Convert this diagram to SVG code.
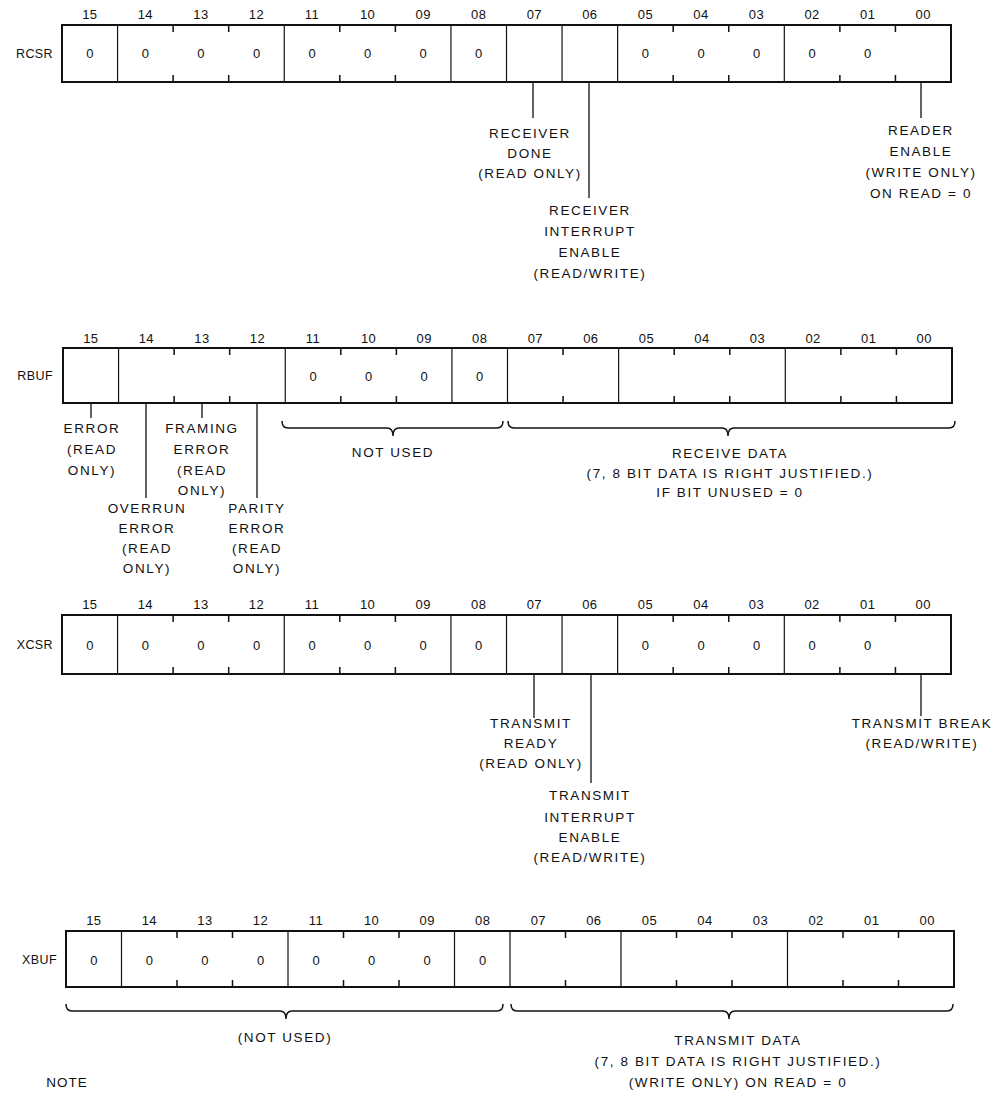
<svg xmlns="http://www.w3.org/2000/svg" width="1001" height="1094" viewBox="0 0 1001 1094">
<style>
text{font-family:"Liberation Sans",Arial,sans-serif;fill:#111}
.box{fill:none;stroke:#111;stroke-width:2}
.sep{fill:none;stroke:#111;stroke-width:1.2}
.tick{fill:none;stroke:#111;stroke-width:1.5}
.num{font-size:13px;text-anchor:middle;letter-spacing:0.4px}
.zero{font-size:13px;text-anchor:middle}
.reg{font-size:12.5px;text-anchor:end;letter-spacing:0.4px}
.lbl{font-size:13.5px;text-anchor:middle;letter-spacing:1.6px}
.lead{fill:none;stroke:#111;stroke-width:1.3}
.brace{fill:none;stroke:#111;stroke-width:1.5}
</style>
<defs>
<g id="nums">
<text class="num" x="27.8">15</text><text class="num" x="83.3">14</text><text class="num" x="138.9">13</text><text class="num" x="194.5">12</text>
<text class="num" x="250.0">11</text><text class="num" x="305.6">10</text><text class="num" x="361.2">09</text><text class="num" x="416.7">08</text>
<text class="num" x="472.3">07</text><text class="num" x="527.8">06</text><text class="num" x="583.4">05</text><text class="num" x="639.0">04</text>
<text class="num" x="694.5">03</text><text class="num" x="750.1">02</text><text class="num" x="805.7">01</text><text class="num" x="861.2">00</text>
</g>
</defs>

<g id="RCSR" transform="translate(62,25)">
<use href="#nums" y="-6"/>
<text class="reg" x="-9" y="33">RCSR</text>
<rect class="box" x="0" y="0" width="889" height="57"/>
<path class="sep" d="M55.56,0V57M222.25,0V57M388.94,0V57M444.5,0V57M500.06,0V57M555.63,0V57M722.31,0V57"/>
<path class="tick" d="M111.13,0v7M111.13,57v-7M166.69,0v7M166.69,57v-7M277.81,0v7M277.81,57v-7M333.38,0v7M333.38,57v-7M611.19,0v7M611.19,57v-7M666.75,0v7M666.75,57v-7M777.88,0v7M777.88,57v-7M833.44,0v7M833.44,57v-7"/>
<g class="zeros">
<text class="zero" x="27.8" y="33">0</text><text class="zero" x="83.3" y="33">0</text><text class="zero" x="138.9" y="33">0</text><text class="zero" x="194.5" y="33">0</text>
<text class="zero" x="250.0" y="33">0</text><text class="zero" x="305.6" y="33">0</text><text class="zero" x="361.2" y="33">0</text><text class="zero" x="416.7" y="33">0</text>
<text class="zero" x="583.4" y="33">0</text><text class="zero" x="639.0" y="33">0</text><text class="zero" x="694.5" y="33">0</text>
<text class="zero" x="750.1" y="33">0</text><text class="zero" x="805.7" y="33">0</text>
</g>
</g>

<g id="RCSR-labels">
<text class="lbl" x="530" y="138">RECEIVER</text>
<text class="lbl" x="530" y="158">DONE</text>
<text class="lbl" x="530" y="178">(READ ONLY)</text>
<text class="lbl" x="590" y="215">RECEIVER</text>
<text class="lbl" x="590" y="236">INTERRUPT</text>
<text class="lbl" x="590" y="257">ENABLE</text>
<text class="lbl" x="590" y="278">(READ/WRITE)</text>
<text class="lbl" x="921" y="135">READER</text>
<text class="lbl" x="921" y="156">ENABLE</text>
<text class="lbl" x="921" y="177">(WRITE ONLY)</text>
<text class="lbl" x="921" y="198">ON READ = 0</text>
</g>

<g id="RBUF" transform="translate(63,348)">
<use href="#nums" y="-5"/>
<text class="reg" x="-10" y="32">RBUF</text>
<rect class="box" x="0" y="0" width="889" height="55"/>
<path class="sep" d="M55.56,0V55M222.25,0V55M388.94,0V55M444.5,0V55M555.63,0V55M722.31,0V55"/>
<path class="tick" d="M111.13,0v7M111.13,55v-7M166.69,0v7M166.69,55v-7M277.81,0v7M277.81,55v-7M333.38,0v7M333.38,55v-7M500.06,0v7M500.06,55v-7M611.19,0v7M611.19,55v-7M666.75,0v7M666.75,55v-7M777.88,0v7M777.88,55v-7M833.44,0v7M833.44,55v-7"/>
<text class="zero" x="250.0" y="33">0</text><text class="zero" x="305.6" y="33">0</text><text class="zero" x="361.2" y="33">0</text><text class="zero" x="416.7" y="33">0</text>
</g>

<g id="RBUF-labels">
<text class="lbl" x="92" y="433">ERROR</text>
<text class="lbl" x="92" y="454">(READ</text>
<text class="lbl" x="92" y="475">ONLY)</text>
<text class="lbl" x="202" y="433">FRAMING</text>
<text class="lbl" x="202" y="454">ERROR</text>
<text class="lbl" x="202" y="475">(READ</text>
<text class="lbl" x="202" y="495">ONLY)</text>
<text class="lbl" x="147" y="513">OVERRUN</text>
<text class="lbl" x="147" y="533">ERROR</text>
<text class="lbl" x="147" y="553">(READ</text>
<text class="lbl" x="147" y="573">ONLY)</text>
<text class="lbl" x="257" y="513">PARITY</text>
<text class="lbl" x="257" y="533">ERROR</text>
<text class="lbl" x="257" y="553">(READ</text>
<text class="lbl" x="257" y="573">ONLY)</text>
<text class="lbl" x="393" y="457">NOT USED</text>
<text class="lbl" x="730" y="458">RECEIVE DATA</text>
<text class="lbl" x="730" y="478">(7, 8 BIT DATA IS RIGHT JUSTIFIED.)</text>
<text class="lbl" x="730" y="497">IF BIT UNUSED = 0</text>
</g>

<g id="XCSR" transform="translate(62,615)">
<use href="#nums" y="-6"/>
<text class="reg" x="-9" y="34">XCSR</text>
<rect class="box" x="0" y="0" width="889" height="59"/>
<path class="sep" d="M55.56,0V59M222.25,0V59M388.94,0V59M444.5,0V59M500.06,0V59M555.63,0V59M722.31,0V59"/>
<path class="tick" d="M111.13,0v7M111.13,59v-7M166.69,0v7M166.69,59v-7M277.81,0v7M277.81,59v-7M333.38,0v7M333.38,59v-7M611.19,0v7M611.19,59v-7M666.75,0v7M666.75,59v-7M777.88,0v7M777.88,59v-7M833.44,0v7M833.44,59v-7"/>
<text class="zero" x="27.8" y="35">0</text><text class="zero" x="83.3" y="35">0</text><text class="zero" x="138.9" y="35">0</text><text class="zero" x="194.5" y="35">0</text>
<text class="zero" x="250.0" y="35">0</text><text class="zero" x="305.6" y="35">0</text><text class="zero" x="361.2" y="35">0</text><text class="zero" x="416.7" y="35">0</text>
<text class="zero" x="583.4" y="35">0</text><text class="zero" x="639.0" y="35">0</text><text class="zero" x="694.5" y="35">0</text>
<text class="zero" x="750.1" y="35">0</text><text class="zero" x="805.7" y="35">0</text>
</g>

<g id="XCSR-labels">
<text class="lbl" x="531" y="728">TRANSMIT</text>
<text class="lbl" x="531" y="748">READY</text>
<text class="lbl" x="531" y="768">(READ ONLY)</text>
<text class="lbl" x="590" y="800">TRANSMIT</text>
<text class="lbl" x="590" y="822">INTERRUPT</text>
<text class="lbl" x="590" y="842">ENABLE</text>
<text class="lbl" x="590" y="862">(READ/WRITE)</text>
<text class="lbl" x="922" y="728">TRANSMIT BREAK</text>
<text class="lbl" x="922" y="748">(READ/WRITE)</text>
</g>

<g id="XBUF" transform="translate(66,931)">
<use href="#nums" y="-6"/>
<text class="reg" x="-9" y="33">XBUF</text>
<rect class="box" x="0" y="0" width="888" height="56"/>
<path class="sep" d="M55.5,0V56M222,0V56M388.5,0V56M444,0V56M555,0V56M721.5,0V56"/>
<path class="tick" d="M111,0v7M111,56v-7M166.5,0v7M166.5,56v-7M277.5,0v7M277.5,56v-7M333,0v7M333,56v-7M499.5,0v7M499.5,56v-7M610.5,0v7M610.5,56v-7M666,0v7M666,56v-7M777,0v7M777,56v-7M832.5,0v7M832.5,56v-7"/>
<text class="zero" x="27.8" y="34">0</text><text class="zero" x="83.3" y="34">0</text><text class="zero" x="138.9" y="34">0</text><text class="zero" x="194.5" y="34">0</text>
<text class="zero" x="250.0" y="34">0</text><text class="zero" x="305.6" y="34">0</text><text class="zero" x="361.2" y="34">0</text><text class="zero" x="416.7" y="34">0</text>
</g>

<g id="XBUF-labels">
<text class="lbl" x="285" y="1042">(NOT USED)</text>
<text class="lbl" x="738" y="1045">TRANSMIT DATA</text>
<text class="lbl" x="738" y="1066">(7, 8 BIT DATA IS RIGHT JUSTIFIED.)</text>
<text class="lbl" x="738" y="1087">(WRITE ONLY) ON READ = 0</text>
<text class="lbl" x="67" y="1087" style="letter-spacing:1px">NOTE</text>
</g>

<g id="connectors">
<path class="lead" d="M533,82V118M589,82V198M921,82V118"/>
<path class="lead" d="M91,403V418M146,403V498M202,403V418M257,403V498"/>
<path class="lead" d="M534,674V718M591,674V783M921,674V716"/>
<path class="brace" d="M282,421Q282,428 288,428L387,428Q393,428 393,436Q393,428 399,428L497,428Q503,428 503,421"/>
<path class="brace" d="M508,421Q508,428 514,428L722,428Q728,428 728,436Q728,428 734,428L949,428Q955,428 955,421"/>
<path class="brace" d="M66,1004Q66,1011 72,1011L280,1011Q286,1011 286,1019Q286,1011 292,1011L497,1011Q503,1011 503,1004"/>
<path class="brace" d="M511,1004Q511,1011 517,1011L723,1011Q729,1011 729,1019Q729,1011 735,1011L947,1011Q953,1011 953,1004"/>
</g>
</svg>
